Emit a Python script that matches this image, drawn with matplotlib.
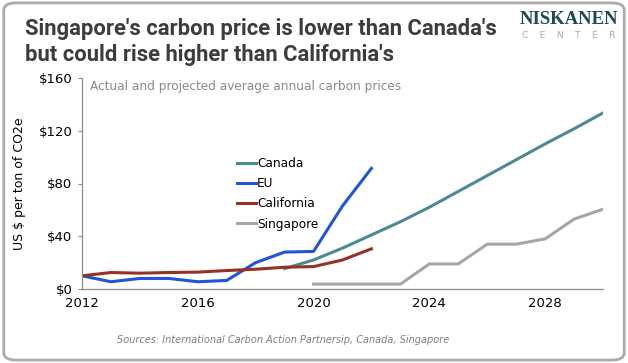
import matplotlib.pyplot as plt
from matplotlib.patches import FancyBboxPatch

years_canada = list(range(2019, 2031))
canada = [15.5, 22, 31, 41, 51, 62, 74, 86, 98, 110, 121.5, 133.5]

years_eu = list(range(2012, 2023))
eu = [10, 5.5, 8, 8, 5.5, 6.5, 20, 28, 28.5, 63, 91.5]

years_cal = list(range(2012, 2023))
california = [10, 12.5, 12, 12.5, 12.8, 14, 15, 16.5, 17, 22, 30.5]

years_sg = list(range(2020, 2031))
singapore = [3.7, 3.7, 3.7, 3.7, 19, 19, 34, 34, 38, 53, 60.5]

xticks = [2012, 2016, 2020, 2024, 2028]
yticks = [0, 40, 80, 120, 160]

fig = plt.figure(figsize=(6.28, 3.63), dpi=100)
fig.patches.append(FancyBboxPatch((0.006, 0.008), 0.988, 0.984,
                                  boxstyle="round,pad=0,rounding_size=0.02",
                                  transform=fig.transFigure, fill=False,
                                  edgecolor='#ababab', linewidth=2))

ax = fig.add_axes([82/628, 1 - 289/363, 521/628, 211/363])
ax.plot(years_canada, canada, color='#4a8a92', lw=2.2, label='Canada')
ax.plot(years_eu, eu, color='#1f55d6', lw=2.2, label='EU')
ax.plot(years_cal, california, color='#963222', lw=2.2, label='California')
ax.plot(years_sg, singapore, color='#a6a6a6', lw=2.2, label='Singapore')

ax.set_xlim(2012, 2030)
ax.set_ylim(0, 160)
ax.set_xticks(xticks)
ax.set_yticks(yticks)
ax.set_yticklabels([f'${v}' for v in yticks])
for s in ['top', 'right']:
    ax.spines[s].set_visible(False)
for s in ['left', 'bottom']:
    ax.spines[s].set_color('#8c8c8c')
    ax.spines[s].set_linewidth(0.9)
ax.tick_params(axis='x', length=0, pad=6, labelsize=9.5)
ax.tick_params(axis='y', length=3, color='#8c8c8c', pad=4, labelsize=9.5)
ax.set_ylabel('US $ per ton of CO2e', fontsize=9, labelpad=9)

ax.legend(loc='upper left', bbox_to_anchor=(0.285, 0.655), frameon=False,
          fontsize=8.7, handlelength=1.6, handletextpad=0.1, labelspacing=0.6,
          borderpad=0)

ax.text(0.016, 0.99, 'Actual and projected average annual carbon prices',
        transform=ax.transAxes, color='#8a8a8a', fontsize=8.7, va='top')

fig.text(0.04, 0.95, "Singapore's carbon price is lower than Canada's\nbut could rise higher than California's",
         family='Roboto', fontsize=15.8, fontweight='bold', color='#3c3c3c',
         va='top', linespacing=1.2)
fig.text(0.906, 0.945, 'NISKANEN', family='Liberation Serif', fontsize=13.5,
         color='#1e4a52', ha='center', va='center', fontweight='bold')
fig.text(0.906, 0.902, 'C    E    N    T    E    R', fontsize=6.5, color='#a8a8a8',
         ha='center', va='center')

fig.text(0.451, 0.063, 'Sources: International Carbon Action Partnersip, Canada, Singapore',
         fontsize=7, style='italic', color='#7f7f7f', ha='center', va='center')

fig.savefig('out.png', dpi=100)
